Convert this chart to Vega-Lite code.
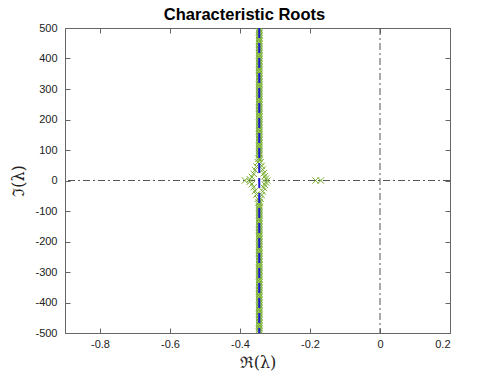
{
  "$schema": "https://vega.github.io/schema/vega-lite/v6.json",
  "width": 385,
  "height": 305,
  "autosize": "none",
  "padding": {"left": 65, "top": 28, "right": 48, "bottom": 41},
  "background": "white",
  "title": {"text": "Characteristic Roots", "font": "Liberation Sans", "fontSize": 16.5, "fontWeight": "bold", "color": "#000", "offset": -1, "dx": -13, "anchor": "middle"},
  "config": {
    "view": {"stroke": "#666", "strokeWidth": 1},
    "axis": {"grid": false, "domain": false, "tickColor": "#666", "tickSize": -5, "labelOverlap": false, "labelFont": "Liberation Sans", "labelFontSize": 11, "labelColor": "#222", "titleFont": "DejaVu Serif", "titleFontSize": 16, "titleFontWeight": "normal", "titleColor": "#222"}
  },
  "resolve": {"axis": {"x": "independent", "y": "independent"}},
  "datasets": {
    "roots": [
      {"re": -0.345, "im": -500}, {"re": -0.345, "im": -495}, {"re": -0.345, "im": -490}, {"re": -0.345, "im": -485}, {"re": -0.345, "im": -480}, {"re": -0.345, "im": -475}, {"re": -0.345, "im": -470}, {"re": -0.345, "im": -465}, {"re": -0.345, "im": -460}, {"re": -0.345, "im": -455},
      {"re": -0.345, "im": -450}, {"re": -0.345, "im": -445}, {"re": -0.345, "im": -440}, {"re": -0.345, "im": -435}, {"re": -0.345, "im": -430}, {"re": -0.345, "im": -425}, {"re": -0.345, "im": -420}, {"re": -0.345, "im": -415}, {"re": -0.345, "im": -410}, {"re": -0.345, "im": -405},
      {"re": -0.345, "im": -400}, {"re": -0.345, "im": -395}, {"re": -0.345, "im": -390}, {"re": -0.345, "im": -385}, {"re": -0.345, "im": -380}, {"re": -0.345, "im": -375}, {"re": -0.345, "im": -370}, {"re": -0.345, "im": -365}, {"re": -0.345, "im": -360}, {"re": -0.345, "im": -355},
      {"re": -0.345, "im": -350}, {"re": -0.345, "im": -345}, {"re": -0.345, "im": -340}, {"re": -0.345, "im": -335}, {"re": -0.345, "im": -330}, {"re": -0.345, "im": -325}, {"re": -0.345, "im": -320}, {"re": -0.345, "im": -315}, {"re": -0.345, "im": -310}, {"re": -0.345, "im": -305},
      {"re": -0.345, "im": -300}, {"re": -0.345, "im": -295}, {"re": -0.345, "im": -290}, {"re": -0.345, "im": -285}, {"re": -0.345, "im": -280}, {"re": -0.345, "im": -275}, {"re": -0.345, "im": -270}, {"re": -0.345, "im": -265}, {"re": -0.345, "im": -260}, {"re": -0.345, "im": -255},
      {"re": -0.345, "im": -250}, {"re": -0.345, "im": -245}, {"re": -0.345, "im": -240}, {"re": -0.345, "im": -235}, {"re": -0.345, "im": -230}, {"re": -0.345, "im": -225}, {"re": -0.345, "im": -220}, {"re": -0.345, "im": -215}, {"re": -0.345, "im": -210}, {"re": -0.345, "im": -205},
      {"re": -0.345, "im": -200}, {"re": -0.345, "im": -195}, {"re": -0.345, "im": -190}, {"re": -0.345, "im": -185}, {"re": -0.345, "im": -180}, {"re": -0.345, "im": -175}, {"re": -0.345, "im": -170}, {"re": -0.345, "im": -165}, {"re": -0.345, "im": -160}, {"re": -0.345, "im": -155},
      {"re": -0.345, "im": -150}, {"re": -0.345, "im": -145}, {"re": -0.345, "im": -140}, {"re": -0.345, "im": -135}, {"re": -0.345, "im": -130}, {"re": -0.345, "im": -125}, {"re": -0.345, "im": -120}, {"re": -0.345, "im": -115}, {"re": -0.345, "im": -110}, {"re": -0.345, "im": -105},
      {"re": -0.345, "im": -100}, {"re": -0.345, "im": -95}, {"re": -0.345, "im": -90}, {"re": -0.345, "im": -85}, {"re": -0.345, "im": -80},
      {"re": -0.345, "im": 80}, {"re": -0.345, "im": 85}, {"re": -0.345, "im": 90}, {"re": -0.345, "im": 95}, {"re": -0.345, "im": 100},
      {"re": -0.345, "im": 105}, {"re": -0.345, "im": 110}, {"re": -0.345, "im": 115}, {"re": -0.345, "im": 120}, {"re": -0.345, "im": 125}, {"re": -0.345, "im": 130}, {"re": -0.345, "im": 135}, {"re": -0.345, "im": 140}, {"re": -0.345, "im": 145}, {"re": -0.345, "im": 150},
      {"re": -0.345, "im": 155}, {"re": -0.345, "im": 160}, {"re": -0.345, "im": 165}, {"re": -0.345, "im": 170}, {"re": -0.345, "im": 175}, {"re": -0.345, "im": 180}, {"re": -0.345, "im": 185}, {"re": -0.345, "im": 190}, {"re": -0.345, "im": 195}, {"re": -0.345, "im": 200},
      {"re": -0.345, "im": 205}, {"re": -0.345, "im": 210}, {"re": -0.345, "im": 215}, {"re": -0.345, "im": 220}, {"re": -0.345, "im": 225}, {"re": -0.345, "im": 230}, {"re": -0.345, "im": 235}, {"re": -0.345, "im": 240}, {"re": -0.345, "im": 245}, {"re": -0.345, "im": 250},
      {"re": -0.345, "im": 255}, {"re": -0.345, "im": 260}, {"re": -0.345, "im": 265}, {"re": -0.345, "im": 270}, {"re": -0.345, "im": 275}, {"re": -0.345, "im": 280}, {"re": -0.345, "im": 285}, {"re": -0.345, "im": 290}, {"re": -0.345, "im": 295}, {"re": -0.345, "im": 300},
      {"re": -0.345, "im": 305}, {"re": -0.345, "im": 310}, {"re": -0.345, "im": 315}, {"re": -0.345, "im": 320}, {"re": -0.345, "im": 325}, {"re": -0.345, "im": 330}, {"re": -0.345, "im": 335}, {"re": -0.345, "im": 340}, {"re": -0.345, "im": 345}, {"re": -0.345, "im": 350},
      {"re": -0.345, "im": 355}, {"re": -0.345, "im": 360}, {"re": -0.345, "im": 365}, {"re": -0.345, "im": 370}, {"re": -0.345, "im": 375}, {"re": -0.345, "im": 380}, {"re": -0.345, "im": 385}, {"re": -0.345, "im": 390}, {"re": -0.345, "im": 395}, {"re": -0.345, "im": 400},
      {"re": -0.345, "im": 405}, {"re": -0.345, "im": 410}, {"re": -0.345, "im": 415}, {"re": -0.345, "im": 420}, {"re": -0.345, "im": 425}, {"re": -0.345, "im": 430}, {"re": -0.345, "im": 435}, {"re": -0.345, "im": 440}, {"re": -0.345, "im": 445}, {"re": -0.345, "im": 450},
      {"re": -0.345, "im": 455}, {"re": -0.345, "im": 460}, {"re": -0.345, "im": 465}, {"re": -0.345, "im": 470}, {"re": -0.345, "im": 475}, {"re": -0.345, "im": 480}, {"re": -0.345, "im": 485}, {"re": -0.345, "im": 490}, {"re": -0.345, "im": 495}, {"re": -0.345, "im": 500},
      {"re": -0.386, "im": 0}, {"re": -0.372, "im": 4}, {"re": -0.372, "im": -4}, {"re": -0.366, "im": 12}, {"re": -0.366, "im": -12},
      {"re": -0.361, "im": 22}, {"re": -0.361, "im": -22}, {"re": -0.357, "im": 34}, {"re": -0.357, "im": -34},
      {"re": -0.353, "im": 46}, {"re": -0.353, "im": -46}, {"re": -0.349, "im": 60}, {"re": -0.349, "im": -60},
      {"re": -0.347, "im": 72}, {"re": -0.347, "im": -72},
      {"re": -0.322, "im": 0}, {"re": -0.326, "im": 6}, {"re": -0.326, "im": -6}, {"re": -0.329, "im": 14}, {"re": -0.329, "im": -14},
      {"re": -0.332, "im": 24}, {"re": -0.332, "im": -24}, {"re": -0.335, "im": 36}, {"re": -0.335, "im": -36},
      {"re": -0.338, "im": 48}, {"re": -0.338, "im": -48}, {"re": -0.341, "im": 60}, {"re": -0.341, "im": -60},
      {"re": -0.343, "im": 72}, {"re": -0.343, "im": -72},
      {"re": -0.184, "im": 0}, {"re": -0.169, "im": 0}
    ],
    "zero": [{"v": 0}],
    "mean": [{"v": -0.345}]
  },
  "layer": [
    {
      "data": {"name": "zero"},
      "mark": {"type": "rule", "color": "#555", "strokeWidth": 1, "strokeDash": [7, 3, 2, 3]},
      "encoding": {
        "x": {"field": "v", "type": "quantitative", "scale": {"domain": [-0.9, 0.2], "nice": false, "zero": false},
          "axis": {"orient": "bottom", "values": [-0.8, -0.6, -0.4, -0.2, 0, 0.2], "labelExpr": "toString(datum.value)", "labelPadding": 10, "title": "ℜ(λ)", "titlePadding": 5}}
      }
    },
    {
      "data": {"name": "zero"},
      "mark": {"type": "rule", "color": "#555", "strokeWidth": 1, "strokeDash": [7, 3, 2, 3]},
      "encoding": {
        "y": {"field": "v", "type": "quantitative", "scale": {"domain": [-500, 500], "nice": false, "zero": false},
          "axis": {"orient": "left", "values": [-500, -400, -300, -200, -100, 0, 100, 200, 300, 400, 500], "labelExpr": "toString(datum.value)", "labelPadding": 13, "title": "ℑ(λ)", "titlePadding": 8}}
      }
    },
    {
      "data": {"name": "roots"},
      "mark": {"type": "point", "shape": "M-1,-1L1,1M-1,1L1,-1", "filled": false, "stroke": "#77ac30", "strokeWidth": 1, "size": 40, "opacity": 1, "clip": true},
      "encoding": {
        "x": {"field": "re", "type": "quantitative", "axis": null},
        "y": {"field": "im", "type": "quantitative",
          "axis": {"orient": "right", "values": [-500, -400, -300, -200, -100, 0, 100, 200, 300, 400, 500], "labels": false, "title": null}}
      }
    },
    {
      "data": {"name": "mean"},
      "mark": {"type": "rule", "color": "#1a1ad6", "strokeWidth": 2, "strokeDash": [10, 5]},
      "encoding": {
        "x": {"field": "v", "type": "quantitative",
          "axis": {"orient": "top", "values": [-0.8, -0.6, -0.4, -0.2, 0, 0.2], "labels": false, "title": null}}
      }
    }
  ]
}
